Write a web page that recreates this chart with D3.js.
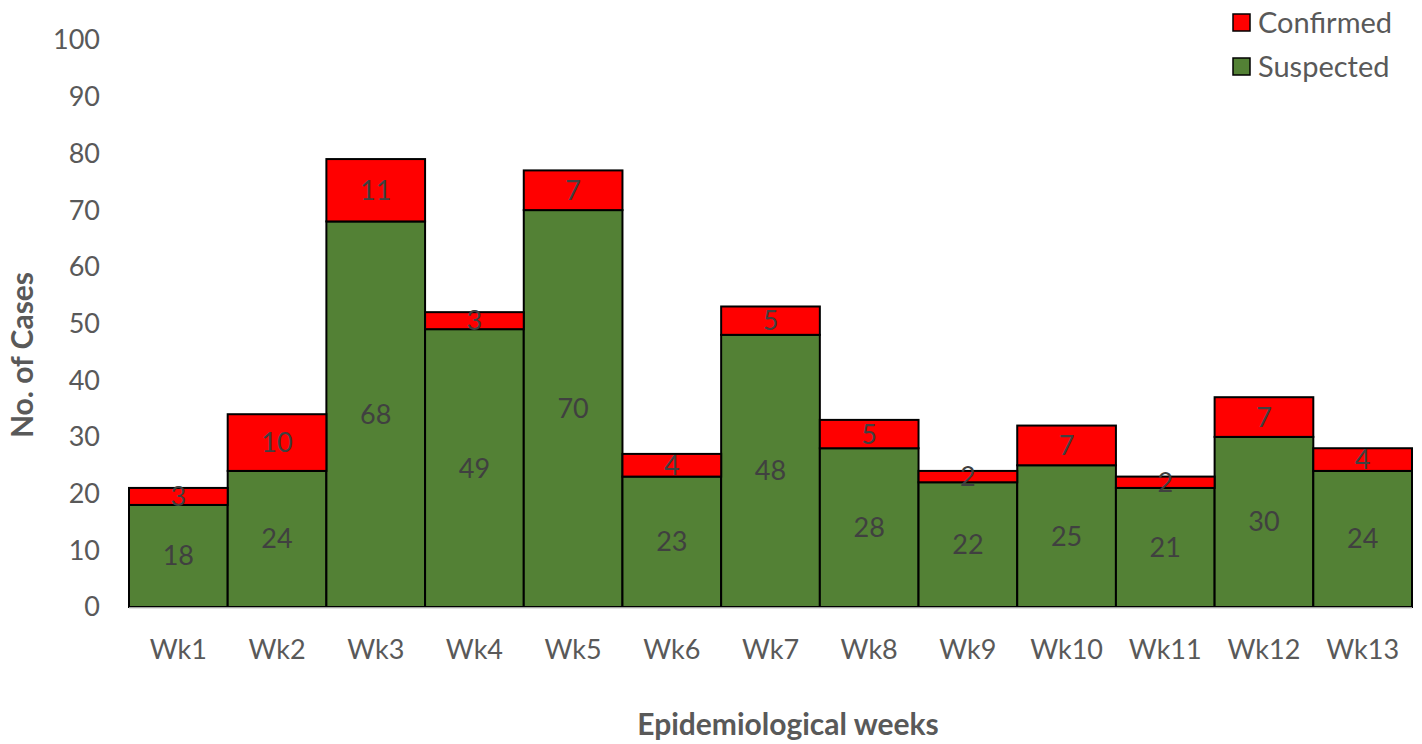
<!DOCTYPE html>
<html><head><meta charset="utf-8">
<script src="https://cdn.jsdelivr.net/npm/d3@7/dist/d3.min.js"></script>
<style>body{margin:0;background:#fff}svg{display:block}text{font-family:Lato,"Open Sans",sans-serif}</style>
</head><body><svg id="c" width="1422" height="744"></svg>
<script>
const weeks = ["Wk1","Wk2","Wk3","Wk4","Wk5","Wk6","Wk7","Wk8","Wk9","Wk10","Wk11","Wk12","Wk13"];
const suspected = [18,24,68,49,70,23,48,28,22,25,21,30,24];
const confirmed = [3,10,11,3,7,4,5,5,2,7,2,7,4];
const yTicks = [0,10,20,30,40,50,60,70,80,90,100];

const svg = d3.select("#c");
const L = 129, R = 1412, T = 40, B = 607;
const x = d3.scaleBand().domain(weeks).range([L, R]).padding(0);
const y = d3.scaleLinear().domain([0,100]).range([B, T]);

// y tick labels
svg.append("g").selectAll("text").data(yTicks).join("text")
  .attr("x", 100).attr("y", d => y(d)).attr("dy", "0.35em")
  .attr("text-anchor", "end").attr("fill", "#595959").attr("font-size", 27)
  .text(d => d);

// bars
const g = svg.append("g");
g.selectAll("rect.s").data(weeks).join("rect").attr("class","s")
  .attr("x", d => x(d)).attr("width", x.bandwidth())
  .attr("y", (d,i) => y(suspected[i])).attr("height", (d,i) => y(0) - y(suspected[i]))
  .attr("fill", "#538135").attr("stroke", "#000").attr("stroke-width", 2);
g.selectAll("rect.c").data(weeks).join("rect").attr("class","c")
  .attr("x", d => x(d)).attr("width", x.bandwidth())
  .attr("y", (d,i) => y(suspected[i] + confirmed[i])).attr("height", (d,i) => y(suspected[i]) - y(suspected[i] + confirmed[i]))
  .attr("fill", "#ff0000").attr("stroke", "#000").attr("stroke-width", 2);

// baseline
svg.append("line").attr("x1", L).attr("x2", R).attr("y1", B + 1).attr("y2", B + 1)
  .attr("stroke", "#d9d9d9").attr("stroke-width", 1.5);

// data labels
svg.append("g").selectAll("text").data(weeks).join("text")
  .attr("x", d => x(d) + x.bandwidth()/2).attr("y", (d,i) => y(suspected[i]/2)).attr("dy", "0.35em")
  .attr("text-anchor", "middle").attr("fill", "#404040").attr("font-size", 27)
  .text((d,i) => suspected[i]);
svg.append("g").selectAll("text").data(weeks).join("text")
  .attr("x", d => x(d) + x.bandwidth()/2).attr("y", (d,i) => y(suspected[i] + confirmed[i]/2)).attr("dy", "0.35em")
  .attr("text-anchor", "middle").attr("fill", "#404040").attr("font-size", 27)
  .text((d,i) => confirmed[i]);

// x tick labels
svg.append("g").selectAll("text").data(weeks).join("text")
  .attr("x", d => x(d) + x.bandwidth()/2).attr("y", 650).attr("dy", "0.35em")
  .attr("text-anchor", "middle").attr("fill", "#595959").attr("font-size", 27)
  .text(d => d);

// axis titles
svg.append("text").attr("x", 788).attr("y", 724).attr("dy", "0.35em")
  .attr("text-anchor", "middle").attr("fill", "#595959").attr("font-size", 30).attr("font-weight", "bold")
  .text("Epidemiological weeks");
svg.append("text").attr("transform", "translate(22,355) rotate(-90)").attr("dy", "0.35em")
  .attr("text-anchor", "middle").attr("fill", "#595959").attr("font-size", 30).attr("font-weight", "bold")
  .text("No. of Cases");

// legend
const legend = [{name:"Confirmed", color:"#ff0000"}, {name:"Suspected", color:"#538135"}];
const lg = svg.append("g").selectAll("g").data(legend).join("g")
  .attr("transform", (d,i) => `translate(1233,${14 + i*44})`);
lg.append("rect").attr("width", 17).attr("height", 17).attr("fill", d => d.color)
  .attr("stroke", "#000").attr("stroke-width", 1.5);
lg.append("text").attr("x", 25).attr("y", 9).attr("dy", "0.35em")
  .attr("fill", "#595959").attr("font-size", 29).text(d => d.name);
</script></body></html>
